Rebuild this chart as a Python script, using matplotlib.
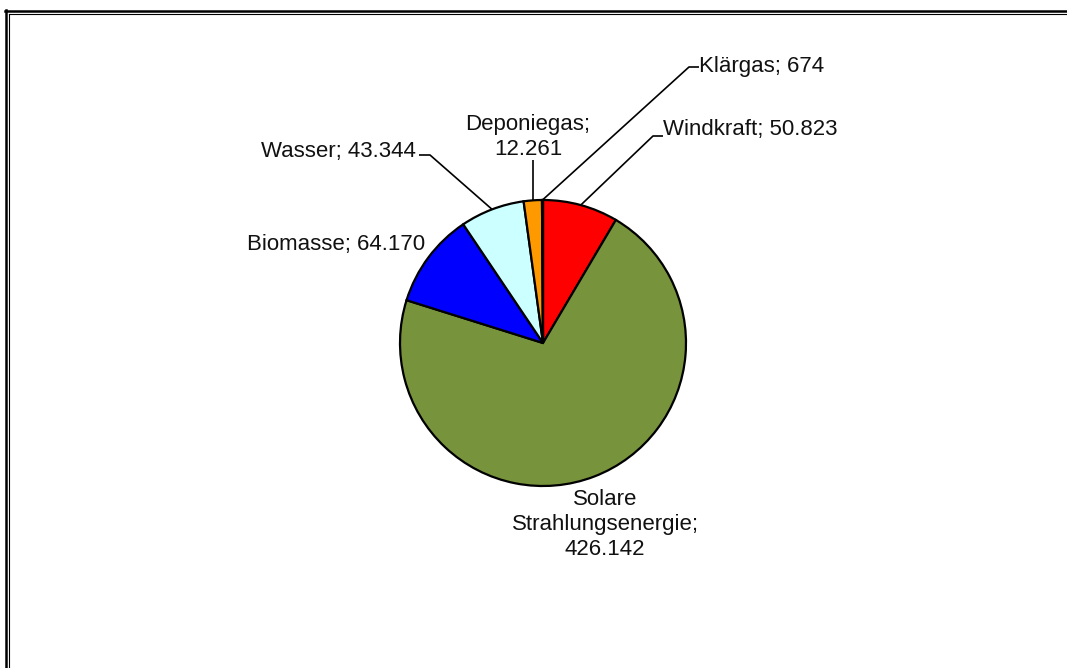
import numpy as np
import matplotlib.pyplot as plt
from matplotlib.lines import Line2D

# data (clockwise from 12 o'clock)
sources = ['Windkraft', 'Solare\nStrahlungsenergie', 'Biomasse', 'Wasser', 'Deponiegas', 'Klärgas']
values = [50823, 426142, 64170, 43344, 12261, 674]
value_text = ['50.823', '426.142', '64.170', '43.344', '12.261', '674']
colors = ['#FF0000', '#77933C', '#0000FF', '#CCFFFF', '#FF9900', '#FFFF00']

W, H = 1067, 668
plt.rcParams['font.family'] = ['Liberation Sans', 'DejaVu Sans']

fig = plt.figure(figsize=(W / 100, H / 100), dpi=100)
ax = fig.add_axes([0, 0, 1, 1])

def py(y):
	#image rows -> data y
	return H - y

cx, cy, rad = 543, py(343), 143
wedges, _ = ax.pie(values, colors=colors, startangle=90, counterclock=False,
	center=(cx, cy), radius=rad,
	wedgeprops=dict(edgecolor='black', linewidth=1.6))
ax.set_xlim(0, W)
ax.set_ylim(0, H)
ax.set_aspect('equal', adjustable='datalim')
ax.axis('off')

def edge_point(w):
	mid = np.deg2rad((w.theta1 + w.theta2) / 2)
	return w.center[0] + w.r * np.cos(mid), w.center[1] + w.r * np.sin(mid)

fs = 16
# label layout: text x, baseline y (last line), alignment, elbow points for leader (image coords)
layout = {
	'Windkraft': (663, 135, 'left', [(653, 136), (663, 136)]),
	'Solare\nStrahlungsenergie': (605, 555, 'center', None),
	'Biomasse': (425, 250, 'right', None),
	'Wasser': (416, 157, 'right', [(430, 155), (419, 155)]),
	'Deponiegas': (528, 155, 'center', [(None, 160)]),
	'Klärgas': (699, 72, 'left', [(689, 67), (699, 67)]),
}

for w, name, val in zip(wedges, sources, value_text):
	tx, ty, ha, elbow = layout[name]
	if name in ('Solare\nStrahlungsenergie', 'Deponiegas'):
		label = name + ';\n' + val
	else:
		label = name + '; ' + val
	ax.text(tx, py(ty), label, ha=ha, va='baseline', fontsize=fs,
		multialignment='center', linespacing=1.25, color='#111111')
	if elbow:
		ex, ey = edge_point(w)
		xs, ys = [ex], [ey]
		for px_, py_ in elbow:
			xs.append(ex if px_ is None else px_)
			ys.append(py(py_))
		ax.plot(xs, ys, color='black', linewidth=1.2, solid_capstyle='butt')

# double frame on top and left like the original export
fig.add_artist(Line2D([6 / W, 6 / W], [0, 1 - 10 / H], transform=fig.transFigure, color='black', linewidth=1.8))
fig.add_artist(Line2D([9 / W, 9 / W], [0, 1 - 13.5 / H], transform=fig.transFigure, color='black', linewidth=0.8))
fig.add_artist(Line2D([5 / W, 1], [1 - 11 / H, 1 - 11 / H], transform=fig.transFigure, color='black', linewidth=1.8))
fig.add_artist(Line2D([8.5 / W, 1], [1 - 13.5 / H, 1 - 13.5 / H], transform=fig.transFigure, color='black', linewidth=0.8))

fig.savefig('out.png', dpi=100)
